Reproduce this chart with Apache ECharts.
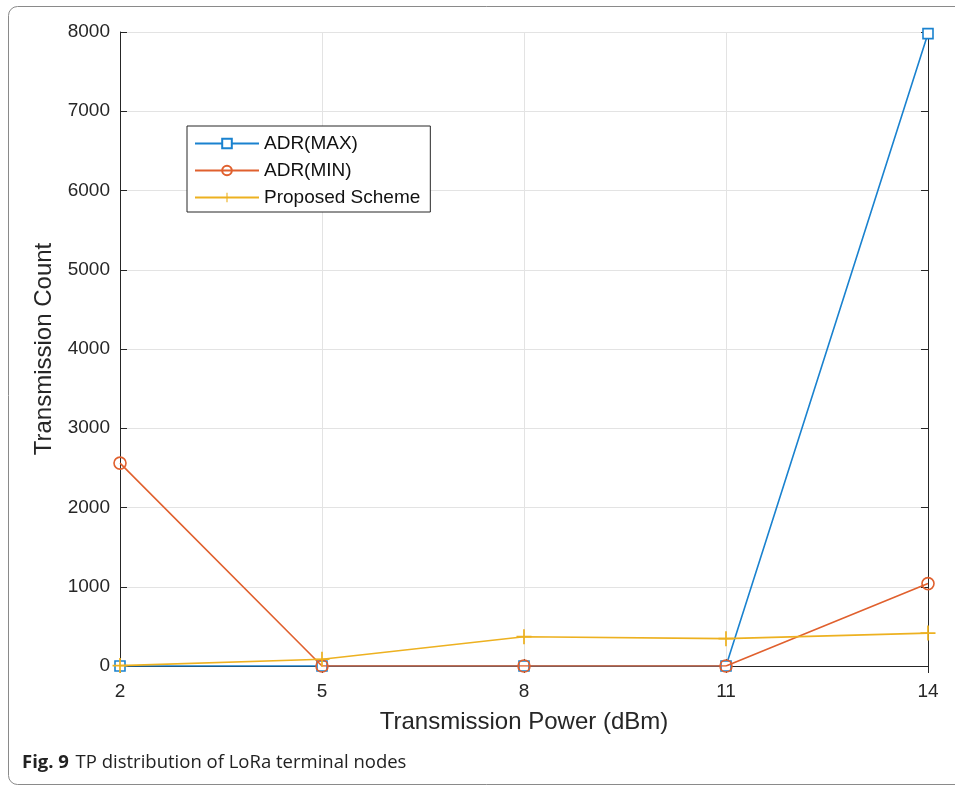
<!DOCTYPE html>
<html>
<head>
<meta charset="utf-8">
<script src="https://cdn.jsdelivr.net/npm/echarts@6/dist/echarts.min.js"></script>
<style>
  html, body { margin: 0; padding: 0; background: #fff; }
  #chart { width: 955px; height: 788px; }
</style>
</head>
<body>
<div id="chart"></div>
<script>
// Transmission power levels (dBm)
const powerLevels = ['2', '5', '8', '11', '14'];
// Transmission counts per power level
const adrMax = [0, 0, 0, 0, 7980];
const adrMin = [2560, 0, 0, 0, 1040];
const proposed = [5, 85, 370, 345, 415];
const yTicks = { min: 0, max: 8000, step: 1000 };

const axisColor = '#262626';
const font = '"Liberation Sans", Arial, sans-serif';
const plusIcon = 'path://M6.2,0H7.8V6.2H14V7.8H7.8V14H6.2V7.8H0V6.2H6.2Z';
const blue = '#1a82cf';
const orange = '#e0602e';
const yellow = '#edb120';

const chart = echarts.init(document.getElementById('chart'), null, { renderer: 'canvas' });

const tickInside = { show: true, inside: true, length: 7, lineStyle: { color: axisColor, width: 1 } };

chart.setOption({
  animation: false,
  backgroundColor: '#fff',
  grid: { left: 120, right: 27, top: 32, bottom: 122, containLabel: false },
  legend: {
    orient: 'vertical',
    left: 187,
    top: 126,
    itemWidth: 64,
    itemHeight: 12,
    itemGap: 8,
    padding: [8, 10, 5, 7],
    borderColor: axisColor,
    borderWidth: 1,
    backgroundColor: '#fff',
    textStyle: { fontFamily: font, fontSize: 19, color: '#111' },
    data: ['ADR(MAX)', 'ADR(MIN)', 'Proposed Scheme']
  },
  xAxis: [{
    type: 'category',
    data: powerLevels,
    boundaryGap: false,
    name: 'Transmission Power (dBm)',
    nameLocation: 'middle',
    nameGap: 44,
    nameTextStyle: { fontFamily: font, fontSize: 24, color: axisColor },
    axisLine: { lineStyle: { color: axisColor, width: 1 } },
    axisTick: tickInside,
    axisLabel: { fontFamily: font, fontSize: 19, color: axisColor, margin: 16 },
    splitLine: { show: true, lineStyle: { color: '#e3e3e3', width: 1 } }
  }, {
    type: 'category',
    data: powerLevels,
    boundaryGap: false,
    position: 'top',
    axisLine: { lineStyle: { color: axisColor, width: 1 } },
    axisTick: tickInside,
    axisLabel: { show: false },
    splitLine: { show: false }
  }],
  yAxis: [{
    type: 'value',
    min: yTicks.min,
    max: yTicks.max,
    interval: yTicks.step,
    name: 'Transmission Count',
    nameLocation: 'middle',
    nameGap: 64,
    nameTextStyle: { fontFamily: font, fontSize: 24, color: axisColor },
    axisLine: { show: true, lineStyle: { color: axisColor, width: 1 } },
    axisTick: tickInside,
    axisLabel: { fontFamily: font, fontSize: 19, color: axisColor, margin: 10, formatter: v => String(v) },
    splitLine: { show: true, lineStyle: { color: '#e3e3e3', width: 1 } }
  }, {
    type: 'value',
    min: yTicks.min,
    max: yTicks.max,
    interval: yTicks.step,
    position: 'right',
    axisLine: { show: true, lineStyle: { color: axisColor, width: 1 } },
    axisTick: tickInside,
    axisLabel: { show: false },
    splitLine: { show: false }
  }],
  series: [{
    name: 'ADR(MAX)',
    type: 'line',
    data: adrMax,
    symbol: 'rect',
    symbolSize: 10,
    showAllSymbol: true,
    lineStyle: { width: 1.6, color: blue },
    itemStyle: { color: '#fff', borderColor: blue, borderWidth: 1.6 },
    z: 3
  }, {
    name: 'ADR(MIN)',
    type: 'line',
    data: adrMin,
    symbol: 'circle',
    symbolSize: 12,
    showAllSymbol: true,
    lineStyle: { width: 1.6, color: orange },
    itemStyle: { color: 'rgba(255,255,255,0)', borderColor: orange, borderWidth: 1.6 },
    z: 4
  }, {
    name: 'Proposed Scheme',
    type: 'line',
    data: proposed,
    symbol: plusIcon,
    symbolSize: 15,
    showAllSymbol: true,
    lineStyle: { width: 1.6, color: yellow },
    itemStyle: { color: yellow },
    z: 5
  }],
  graphic: [{
    type: 'rect',
    shape: { x: 8.5, y: 6.5, width: 970, height: 778, r: 9 },
    style: { fill: 'none', stroke: '#8a8a8a', lineWidth: 1 },
    silent: true,
    z: -10
  }, {
    type: 'text',
    left: 22,
    top: 753,
    style: {
      text: '{b|Fig. 9}  {n|TP distribution of LoRa terminal nodes}',
      rich: {
        b: { fontFamily: '"Open Sans", "Noto Sans", sans-serif', fontWeight: 'bold', fontSize: 18.5, fill: '#222' },
        n: { fontFamily: '"Open Sans", "Noto Sans", sans-serif', fontSize: 18.5, fill: '#222' }
      }
    }
  }]
});
</script>
</body>
</html>
